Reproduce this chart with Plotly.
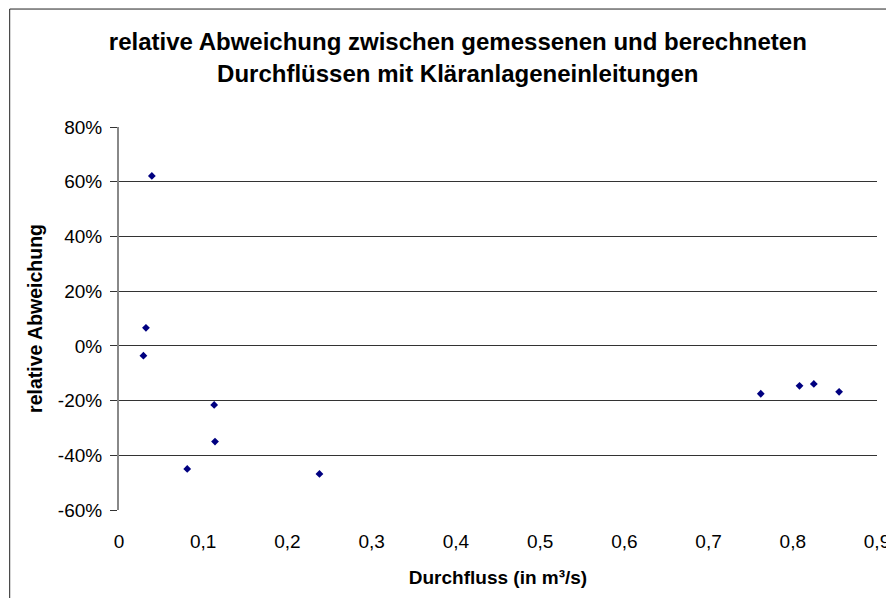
import plotly.graph_objects as go

# Durchfluss (m³/s) und relative Abweichung
durchfluss = [0.039, 0.032, 0.029, 0.113, 0.114, 0.081, 0.238, 0.762, 0.808, 0.825, 0.855]
abweichung = [0.621, 0.066, -0.036, -0.216, -0.350, -0.450, -0.468, -0.175, -0.146, -0.139, -0.168]

y_ticks = [-0.6, -0.4, -0.2, 0.0, 0.2, 0.4, 0.6, 0.8]
y_labels = ["-60%", "-40%", "-20%", "0%", "20%", "40%", "60%", "80%"]
x_ticks = [0, 0.1, 0.2, 0.3, 0.4, 0.5, 0.6, 0.7, 0.8, 0.9]
x_labels = ["0", "0,1", "0,2", "0,3", "0,4", "0,5", "0,6", "0,7", "0,8", "0,9"]

_FONT = "Liberation Sans, Arial, sans-serif"
_MARKER = "#000080"

fig = go.Figure()
fig.add_trace(go.Scatter(
    x=durchfluss,
    y=abweichung,
    mode="markers",
    marker=dict(symbol="diamond", size=6, color=_MARKER),
    showlegend=False,
))

fig.update_layout(
    width=894,
    height=598,
    title=dict(
        text="relative Abweichung zwischen gemessenen und berechneten<br>Durchflüssen mit Kläranlageneinleitungen",
        xref="paper", x=0.447, xanchor="center",
        yref="container", y=0.929, yanchor="top",
        font=dict(family=_FONT, size=24, color="black", weight="bold"),
    ),
    xaxis=dict(
        range=[0, 0.9],
        tickvals=x_ticks,
        ticktext=x_labels,
        showgrid=False,
        zeroline=False,
        showline=False,
        ticks="",
        ticklabelstandoff=18,
        tickfont=dict(family=_FONT, size=19, color="black"),
        title=dict(text="Durchfluss (in m³/s)", standoff=19,
                   font=dict(family=_FONT, size=19, color="black", weight="bold")),
    ),
    yaxis=dict(
        range=[-0.6, 0.8],
        tickvals=y_ticks,
        ticktext=y_labels,
        showgrid=True,
        gridcolor="#333333",
        gridwidth=1,
        zeroline=False,
        showline=True,
        linecolor="#888888",
        linewidth=2,
        ticks="outside",
        ticklen=7,
        tickcolor="#333333",
        ticklabelstandoff=4,
        tickfont=dict(family=_FONT, size=19, color="black"),
        title=dict(text="relative Abweichung", standoff=10,
                   font=dict(family=_FONT, size=19.5, color="black", weight="bold")),
    ),
    margin=dict(l=111, r=20, t=119, b=96),
    paper_bgcolor="white",
    plot_bgcolor="white",
)

# outer chart border (runs past right/bottom edge like the reference crop)
fig.add_shape(type="rect", xref="paper", yref="paper",
              x0=-0.1442, x1=1.05, y0=-0.35, y1=1.308,
              line=dict(color="#222222", width=1), layer="below")

fig.write_html("out.html")
